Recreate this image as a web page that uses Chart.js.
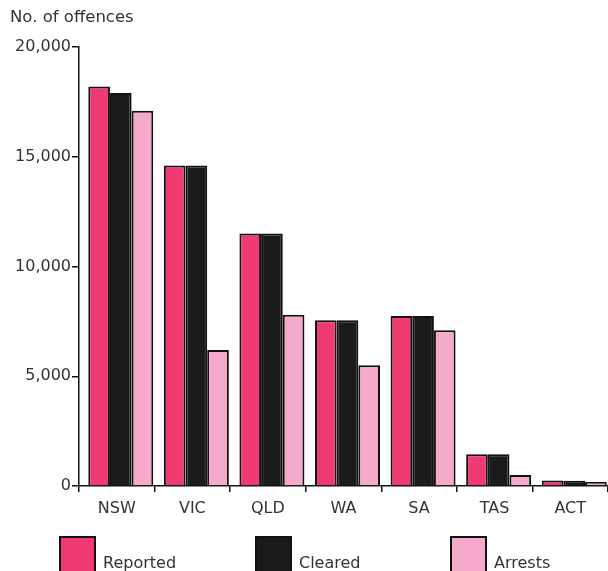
<!DOCTYPE html>
<html>
<head>
<meta charset="utf-8">
<script src="https://cdn.jsdelivr.net/npm/chart.js@4"></script>
<style>
  body{margin:0;background:#fff;}
  #wrap{position:relative;width:608px;height:571px;overflow:hidden;font-family:"DejaVu Sans",sans-serif;color:#333;}
  #title{position:absolute;left:10px;top:7px;font-size:16.5px;}
  .key{position:absolute;top:536px;width:33px;height:40px;border:2px solid #111;}
  .keytxt{position:absolute;top:553px;font-size:16px;}
</style>
</head>
<body>
<div id="wrap">
  <canvas id="myChart" width="608" height="571"></canvas>
  <div id="title">No. of offences</div>
  <div id="legend"></div>
</div>
<script>
const states=['NSW','VIC','QLD','WA','SA','TAS','ACT'];
const reported=[18200,14600,11500,7550,7750,1450,250];
const cleared=[17900,14600,11500,7550,7750,1450,240];
const arrests=[17100,6200,7800,5500,7100,500,180];
const yTicks=[0,5000,10000,15000,20000];

const seriesNames=['Reported','Cleared','Arrests'];
const seriesColors=['#F03A72','#1B1B1B','#F5AACB'];
const seriesData=[reported,cleared,arrests];

// legend boxes, placed like the printed key
const keyX=[59,255,450];
const legend=document.getElementById('legend');
for(let i=0;i<seriesNames.length;i++){
    const box=document.createElement('div');
    box.className='key';
    box.style.left=keyX[i]+'px';
    box.style.background=seriesColors[i];
    legend.appendChild(box);
    const txt=document.createElement('div');
    txt.className='keytxt';
    txt.style.left=(keyX[i]+44)+'px';
    txt.textContent=seriesNames[i];
    legend.appendChild(txt);
}

// the printed groups sit a little right of the category centre
const nudgeBars={
    id:'nudgeBars',
    beforeDatasetsDraw:function(chart){
        chart.ctx.save();
        chart.ctx.translate(4,0);
    },
    afterDatasetsDraw:function(chart){
        chart.ctx.restore();
    }
};

const ctx=document.getElementById('myChart').getContext('2d');
Chart.defaults.font.family='"DejaVu Sans", sans-serif';
Chart.defaults.font.size=16;
Chart.defaults.color='#333';

const myChart=new Chart(ctx,{
    type:'bar',
    data:{
        labels:states,
        datasets:seriesData.map(function(d,i){
            return {
                label:seriesNames[i],
                data:d,
                backgroundColor:seriesColors[i],
                borderColor:'#111',
                borderWidth:2,
                borderSkipped:'bottom',
                categoryPercentage:0.86,
                barPercentage:1.0
            };
        })
    },
    options:{
        responsive:false,
        animation:false,
        layout:{padding:{top:47,bottom:45,left:0,right:0}},
        plugins:{
            legend:{display:false},
            tooltip:{enabled:false}
        },
        scales:{
            x:{
                grid:{
                    display:true,
                    drawOnChartArea:false,
                    offset:true,
                    tickLength:6,
                    color:'#111',
                    lineWidth:1.5
                },
                border:{color:'#111',width:1.5},
                ticks:{padding:7,color:'#333'},
                afterFit:function(scale){scale.height=40;}
            },
            y:{
                min:0,
                max:20000,
                afterBuildTicks:function(scale){
                    scale.ticks=yTicks.map(function(v){return {value:v};});
                },
                grid:{
                    display:true,
                    drawOnChartArea:false,
                    tickLength:7,
                    color:'#111',
                    lineWidth:1.5
                },
                border:{color:'#111',width:1.5},
                ticks:{
                    padding:1,
                    color:'#333',
                    callback:function(v){return v.toLocaleString('en-US');}
                },
                afterFit:function(scale){scale.width=79;}
            }
        }
    },
    plugins:[nudgeBars]
});
</script>
</body>
</html>
